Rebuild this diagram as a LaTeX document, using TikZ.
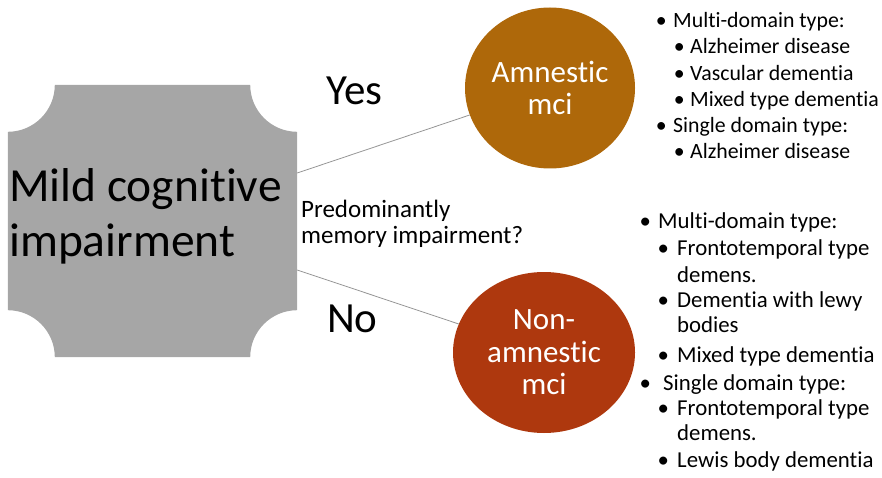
\documentclass[tikz,border=0pt]{standalone}
\usepackage{fontspec}
\setmainfont{Carlito}[Ligatures=NoCommon]
\usetikzlibrary{shapes.geometric}
\definecolor{mcigray}{RGB}{166,166,166}
\definecolor{amnbrown}{RGB}{174,104,10}
\definecolor{nonamnred}{RGB}{174,56,14}
\definecolor{linkgray}{RGB}{150,150,150}
\newcommand{\bul}[1]{\llap{\makebox[0pt]{\textbullet}\hspace{#1pt}}}
\tikzset{
  bubble/.style={shape=ellipse,inner sep=0pt,text=white,align=center,font=\fontsize{31}{32.5}\selectfont},
  answer/.style={anchor=base west,inner sep=0pt,font=\fontsize{43}{49}\selectfont},
  upper/.style={anchor=base west,inner sep=0pt,font=\fontsize{21.8}{26}\selectfont},
  lower/.style={anchor=base west,inner sep=0pt,font=\fontsize{22.8}{27}\selectfont},
  link/.style={draw=linkgray,line width=0.8pt}
}

\begin{document}
\begin{tikzpicture}[x=1pt,y=1pt]
\useasboundingbox (0,0) rectangle (882,477);

% grey box with hollow corners
\node (mci) [rectangle,inner sep=0pt,minimum width=289pt,minimum height=272pt] at (152.5,256) {};
\fill[mcigray] ([xshift=47pt]mci.north west) -- ([xshift=-47pt]mci.north east)
  arc[start angle=180,end angle=270,radius=47pt] -- ([yshift=47pt]mci.south east)
  arc[start angle=90,end angle=180,radius=47pt] -- ([xshift=47pt]mci.south west)
  arc[start angle=0,end angle=90,radius=47pt] -- ([yshift=-47pt]mci.north west)
  arc[start angle=270,end angle=360,radius=47pt] -- cycle;
\node (mcitext) [anchor=west,inner sep=0pt,align=left,font=\fontsize{47.5}{55}\selectfont] at (9,261) {Mild cognitive\\impairment};

% the two outcomes
\node (amn) [bubble,fill=amnbrown,minimum width=170pt,minimum height=161pt] at (550,389) {Amnestic\\mci};
\node (nonamn) [bubble,fill=nonamnred,minimum width=182pt,minimum height=161pt] at (544,124.5) {Non-\\amnestic\\mci};

\draw[link] ([yshift=48pt]mci.east) -- (amn);
\draw[link] ([yshift=-49pt]mci.east) -- (nonamn);

\node (yes) [answer] at (326,372) {Yes};
\node (no) [answer] at (327,145) {No};
\node (question) [anchor=west,inner sep=0pt,align=left,font=\fontsize{25}{26}\selectfont] at (301,253) {Predominantly\\memory impairment?};

% amnestic subtypes
\node (u1) [upper] at (673,449) {\bul{12}Multi-domain type:};
\node (u2) [upper] at (690,423) {\bul{11}Alzheimer disease};
\node (u3) [upper] at (690,396) {\bul{11}Vascular dementia};
\node (u4) [upper] at (690,370) {\bul{11}Mixed type dementia};
\node (u5) [upper] at (673,344) {\bul{12}Single domain type:};
\node (u6) [upper] at (690,318) {\bul{11}Alzheimer disease};

% non-amnestic subtypes
\node (l1) [lower] at (658,249) {\bul{13}Multi-domain type:};
\node (l2) [lower] at (677,222) {\bul{14}Frontotemporal type};
\node (l3) [lower] at (677,195) {demens.};
\node (l4) [lower] at (677,170) {\bul{14}Dementia with lewy};
\node (l5) [lower] at (677,145) {bodies};
\node (l6) [lower] at (677,115) {\bul{14}Mixed type dementia};
\node (l7) [lower] at (663,87) {\bul{18}Single domain type:};
\node (l8) [lower] at (677,62) {\bul{14}Frontotemporal type};
\node (l9) [lower] at (677,37) {demens.};
\node (l10) [lower] at (677,10) {\bul{14}Lewis body dementia};
\end{tikzpicture}
\end{document}
